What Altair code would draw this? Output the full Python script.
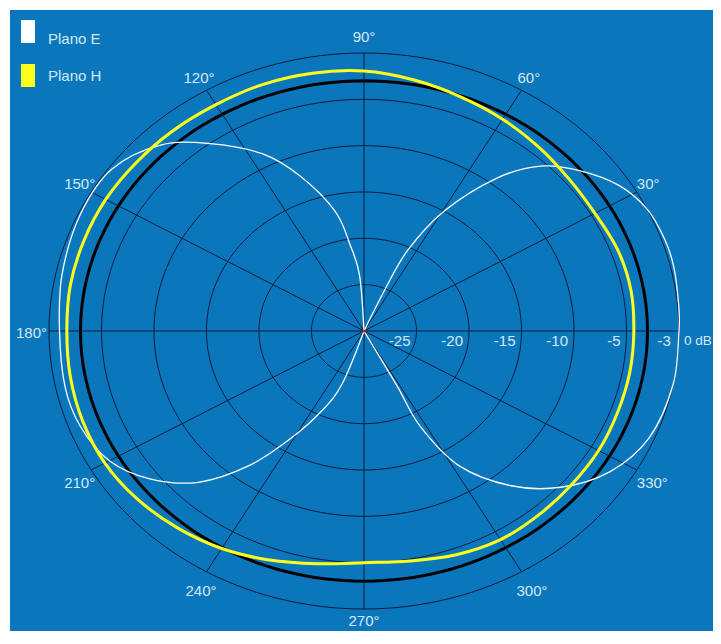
import altair as alt
import pandas as pd

# ---------------- data ----------------
# E-plane (white): two lobes, angle in degrees, level in dB (-30 = centre)
e_lobe = ["R"] * 22 + ["L"] * 22
e_angle = [298, 298, 297.5, 302, 310, 318, 327, 337, 349, 0, 5.5, 13, 19, 26, 33, 40, 46.6, 52.5, 59.5,
           64.5, 66, 66,
           94, 94, 98, 102, 110, 117, 126, 134, 144, 155, 168, 180, 192, 201, 210, 218, 226, 233, 239,
           245, 250, 250]
e_db = [-30, -23.3, -18.4, -12.8, -8.2, -4.8, -2.1, -0.5, 0, 0, 0.1, 0.3, 0.3, 0, -1.1, -3.1, -5.5, -9.2,
        -15, -20.4, -25.3, -30,
        -30, -24, -20.7, -16.8, -12.2, -8.5, -5.0, -2.1, -0.3, -0.2, -0.6, -1.0, -0.9, -1.1, -2.0, -4.1,
        -7.3, -11.8, -16.5, -20.5, -24, -30]

# H-plane (yellow), every 10 degrees
h_angle = list(range(0, 360, 10))
h_db = [-4.3, -4.2, -4.3, -4.6, -4.5, -4.1, -3.6, -3.1, -2.5, -1.95, -1.75, -1.7, -1.8, -1.75, -1.7,
        -1.6, -1.6, -1.6, -1.7, -1.6, -1.5, -1.5, -1.8, -2.3, -2.9, -3.7, -4.5, -5.0, -4.8, -4.3, -4.0,
        -4.1, -4.2, -4.2, -4.3, -4.3]

ring_db = [-25, -20, -15, -10, -5, -3, 0]
db_labels = ["-25", "-20", "-15", "-10", "-5", "-3", "0 dB"]
spoke_angle = [0, 30, 60, 90, 120, 150, 180, 210, 240, 270, 300, 330]
angle_labels = ["0°", "30°", "60°", "90°", "120°", "150°", "180°", "210°", "240°", "270°", "300°", "330°"]
legend_names = ["Plano E", "Plano H"]

# ---------------- styling / layout ----------------
BLUE = "#0a77bd"
GRID = "#0a1c3c"
TXT = "#d5e8f5"
WHITE = "#ffffff"
YELLOW = "#ffff1a"
FONT = "Liberation Sans"
FS = 15
W, H = 703, 621
CX, CY = 354, 321
RX, RY = 315, 278
xs = alt.Scale(domain=[-CX / RX, (W - CX) / RX], nice=False, zero=False)
ys = alt.Scale(domain=[-(H - CY) / RY, CY / RY], nice=False, zero=False)

POLAR = dict(
    r="max(0, (datum.db + 30) / 30)",
    x="datum.r * cos(datum.a * PI / 180)",
    y="datum.r * sin(datum.a * PI / 180)",
)


def X(f="x"):
    return alt.X(f"{f}:Q", scale=xs, axis=None)


def Y(f="y"):
    return alt.Y(f"{f}:Q", scale=ys, axis=None)


# ring geometry (grid)
ring_rows = []
for lvl in ring_db:
    for k, a in enumerate(range(0, 361, 2)):
        ring_rows.append({"ring": lvl, "a": a, "db": lvl, "i": k})
ring_df = pd.DataFrame(ring_rows)

rings_thin = alt.Chart(ring_df).transform_filter("datum.ring != -3").transform_calculate(**POLAR).mark_line(
    color=GRID, strokeWidth=1
).encode(x=X(), y=Y(), detail="ring:N", order="i:Q")

ring_thick = alt.Chart(ring_df).transform_filter("datum.ring == -3").transform_calculate(**POLAR).mark_line(
    color="#000000", strokeWidth=3
).encode(x=X(), y=Y(), order="i:Q")

spoke_df = pd.DataFrame({"a": spoke_angle})
spokes = alt.Chart(spoke_df).transform_calculate(
    x0="0", y0="0", xe="cos(datum.a * PI / 180)", ye="sin(datum.a * PI / 180)"
).mark_rule(color=GRID, strokeWidth=1).encode(x=X("x0"), y=Y("y0"), x2="xe:Q", y2="ye:Q")

e_df = pd.DataFrame({"lobe": e_lobe, "a": e_angle, "db": e_db, "i": list(range(len(e_db)))})
h_df = pd.DataFrame({"a": h_angle, "db": h_db, "i": list(range(len(h_db)))})

e_line = alt.Chart(e_df).transform_calculate(
    r="(datum.db + 30) / 30 < 0 ? 0 : (datum.db + 30) / 30",
    x="datum.r * cos(datum.a * PI / 180)",
    y="datum.r * sin(datum.a * PI / 180)",
).mark_line(
    interpolate="cardinal", strokeWidth=1.3, color=WHITE
).encode(x=X(), y=Y(), detail="lobe:N", order="i:Q")

h_line = alt.Chart(h_df).transform_calculate(**POLAR).mark_line(
    interpolate="cardinal-closed", strokeWidth=3, color=YELLOW
).encode(x=X(), y=Y(), order="i:Q")

# legend-only layers (hidden under the centre dot), one legend per entry
SYM = "M-0.609,-1H0.609V1H-0.609Z"


def one_legend(y, baseline):
    return alt.Legend(
        title=None, orient="none", legendX=6.5, legendY=y, padding=0,
        symbolType=SYM, symbolSize=529, symbolStrokeWidth=0, symbolOpacity=1,
        labelFont=FONT, labelFontSize=FS, labelColor=TXT, labelOffset=8.5, labelLimit=200,
        labelBaseline=baseline,
    )


leg_e = alt.Chart(pd.DataFrame({"plane": [legend_names[0]], "a": [0], "db": [-30]})).transform_calculate(
    **POLAR).mark_point(filled=True, shape="square", size=1).encode(
    x=X(), y=Y(),
    fill=alt.Fill("plane:N", scale=alt.Scale(domain=[legend_names[0]], range=[WHITE]),
                  legend=one_legend(10, "top")))
leg_h = alt.Chart(pd.DataFrame({"plane": [legend_names[1]], "a": [0], "db": [-30]})).transform_calculate(
    **POLAR).mark_point(filled=True, shape="square", size=1).encode(
    x=X(), y=Y(),
    color=alt.Color("plane:N", scale=alt.Scale(domain=[legend_names[1]], range=[YELLOW]),
                    legend=one_legend(54, "middle")))

centre = alt.Chart(pd.DataFrame({"a": [0], "db": [-30]})).transform_calculate(**POLAR).mark_point(
    filled=True, color="#e01010", size=10, opacity=1
).encode(x=X(), y=Y())

# angle labels: (align, baseline, dx, dy) for each spoke label
label_style = {
    30: ("left", "bottom", 0, 0),
    60: ("left", "bottom", -4, -4),
    90: ("center", "bottom", 0, -8),
    120: ("right", "bottom", 8, -4),
    150: ("right", "bottom", 4, 0),
    180: ("right", "middle", -2, 2),
    210: ("right", "top", 4, 6),
    240: ("right", "top", 10, 12),
    270: ("center", "top", 0, 5),
    300: ("left", "top", -5, 12),
    330: ("left", "top", 0, 6),
}
lab_df = pd.DataFrame({"a": spoke_angle, "t": angle_labels})
angle_layers = []
for ang, (al, bl, dx, dy) in label_style.items():
    angle_layers.append(
        alt.Chart(lab_df).transform_filter(f"datum.a == {ang}").transform_calculate(
            lx="cos(datum.a * PI / 180)", ly="sin(datum.a * PI / 180)"
        ).mark_text(align=al, baseline=bl, dx=dx, dy=dy, font=FONT, fontSize=FS, color=TXT).encode(
            x=X("lx"), y=Y("ly"), text="t:N")
    )

db_df = pd.DataFrame({"db": ring_db, "t": db_labels, "a": 0})
db_layers = [
    alt.Chart(db_df).transform_filter("datum.db < -3").transform_calculate(**POLAR).mark_text(
        align="right", baseline="middle", dx=-6, dy=10, font=FONT, fontSize=FS, color=TXT
    ).encode(x=X(), y=Y(), text="t:N"),
    alt.Chart(db_df).transform_filter("datum.db == -3").transform_calculate(**POLAR).mark_text(
        align="left", baseline="middle", dx=10, dy=10, font=FONT, fontSize=FS, color=TXT
    ).encode(x=X(), y=Y(), text="t:N"),
    alt.Chart(db_df).transform_filter("datum.db == 0").transform_calculate(**POLAR).mark_text(
        align="left", baseline="middle", dx=5, dy=10, font=FONT, fontSize=13.5, color=TXT
    ).encode(x=X(), y=Y(), text="t:N"),
]

chart = alt.layer(
    rings_thin, ring_thick, spokes, e_line, h_line, leg_e, leg_h, centre, *angle_layers, *db_layers
).properties(
    width=W, height=H, background="white",
    padding={"left": 2, "top": 2, "right": 0, "bottom": 0},
    autosize=alt.AutoSizeParams(type="none"),
).configure_view(stroke=None, fill=BLUE)

chart.save("out.html", embed_options={"renderer": "svg", "actions": False})
